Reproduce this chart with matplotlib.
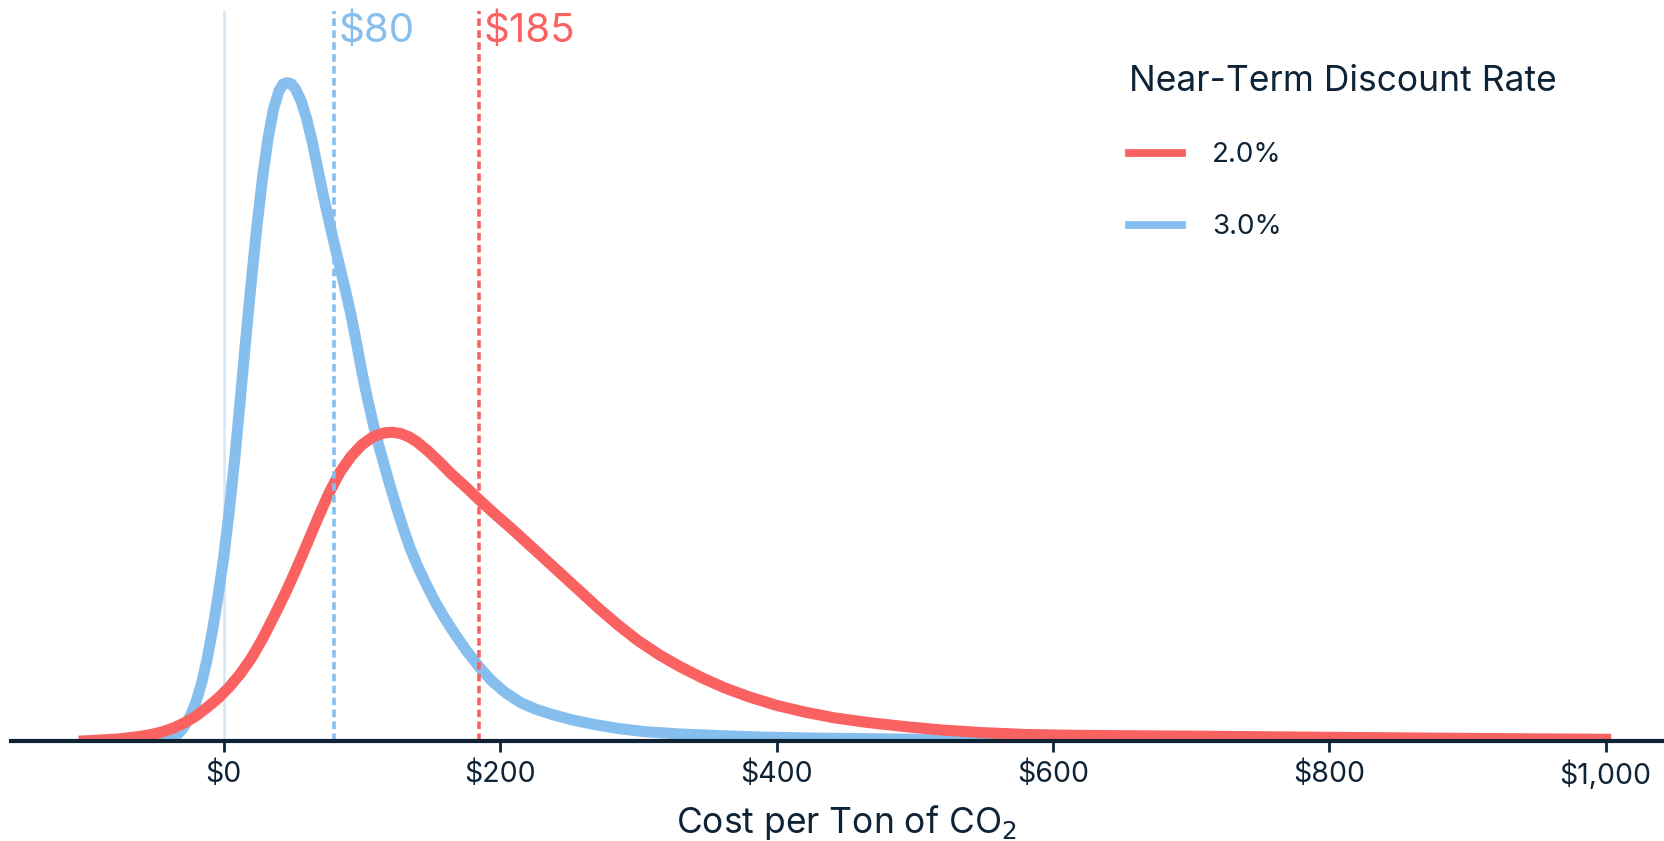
import numpy as np
import matplotlib.pyplot as plt
from matplotlib.ticker import FuncFormatter

# relative density (peak of the 3.0% curve = 1)
x_blue = [-45, -40, -36, -32, -28, -24, -20, -16, -12, -8, -4, 0, 4, 8, 12, 16, 20, 24, 28,
          32, 36, 40, 43, 46, 49, 52, 56, 60, 64, 68, 72, 76, 80, 84, 88, 92, 96, 100, 104,
          108, 112, 116, 120, 125, 130, 135, 141, 147, 153, 160, 168, 176, 185, 194, 204,
          215, 226, 238, 252, 268, 285, 305, 330, 360, 390, 430, 480, 540, 620, 720, 850,
          1000]
y_blue = [0.0, 0.002, 0.006, 0.013, 0.024, 0.039, 0.06, 0.088, 0.125, 0.17, 0.222, 0.28,
          0.35, 0.43, 0.52, 0.612, 0.7, 0.782, 0.855, 0.915, 0.96, 0.988, 0.998, 1.0, 0.998,
          0.99, 0.972, 0.945, 0.91, 0.87, 0.829, 0.791, 0.755, 0.72, 0.685, 0.648, 0.605,
          0.56, 0.52, 0.483, 0.45, 0.42, 0.39, 0.355, 0.322, 0.292, 0.262, 0.236, 0.211,
          0.186, 0.16, 0.136, 0.112, 0.091, 0.073, 0.058, 0.048, 0.04, 0.032, 0.025, 0.019,
          0.014, 0.0105, 0.008, 0.0058, 0.0042, 0.003, 0.002, 0.0013, 0.0008, 0.0004, 0.0]

x_red = [-101, -92, -84, -76, -68, -60, -52, -44, -36, -28, -20, -12, -4, 4, 12, 20, 28, 36,
         44, 52, 60, 68, 76, 84, 92, 100, 108, 116, 122, 128, 134, 140, 148, 156, 165, 175,
         185, 196, 208, 220, 232, 245, 258, 272, 286, 300, 315, 330, 346, 362, 380, 400,
         420, 442, 466, 492, 520, 550, 580, 615, 660, 710, 770, 830, 890, 950, 1000]
y_red = [0.0, 0.001, 0.002, 0.003, 0.005, 0.007, 0.01, 0.014, 0.02, 0.028, 0.038, 0.051,
         0.065, 0.082, 0.102, 0.126, 0.155, 0.188, 0.222, 0.259, 0.298, 0.338, 0.376, 0.408,
         0.432, 0.45, 0.462, 0.468, 0.469, 0.467, 0.462, 0.454, 0.44, 0.424, 0.405, 0.386,
         0.366, 0.345, 0.323, 0.3, 0.277, 0.252, 0.227, 0.2, 0.175, 0.152, 0.131, 0.113,
         0.096, 0.081, 0.067, 0.054, 0.044, 0.035, 0.028, 0.022, 0.0165, 0.0125, 0.0098,
         0.0085, 0.0078, 0.0071, 0.006, 0.005, 0.004, 0.0031, 0.0025]

means = [185, 80]
labels = ['2.0%', '3.0%']
ticks = [0, 200, 400, 600, 800, 1000]

RED = '#fa6262'
BLUE = '#86bfee'
NAVY = '#0e2336'

plt.rcParams['font.family'] = ['Inter', 'DejaVu Sans']

fig = plt.figure(figsize=(16.65, 8.41), dpi=100)
ax = fig.add_axes([0.0066, 0.119, 0.9934, 0.868])

ax.axvline(0, color='#d8e7f5', lw=2, zorder=1)
ax.plot(x_blue, y_blue, color=BLUE, lw=8, solid_joinstyle='round', zorder=2, label=labels[1])
ax.plot(x_red, y_red, color=RED, lw=8, solid_joinstyle='round', zorder=3, label=labels[0])

for m, c in zip(means, [RED, BLUE]):
    ax.axvline(m, color=c, lw=2.6, dashes=(2.1, 1.2), zorder=4)
    ax.text(m + 3, 0.957, f'${m}', color=c, fontsize=29, va='baseline', ha='left',
            transform=ax.get_xaxis_transform())

ax.set_xlim(-154, 1043)
ax.set_ylim(0, 1.109)
ax.set_xticks(ticks)
ax.xaxis.set_major_formatter(FuncFormatter(lambda v, p: f'${v:,.0f}'))
ax.tick_params(axis='x', length=8, width=2, color=NAVY, labelcolor=NAVY, labelsize=20.5, pad=6)
ax.set_yticks([])
for s in ['top', 'right', 'left']:
    ax.spines[s].set_visible(False)
ax.spines['bottom'].set_color(NAVY)
ax.spines['bottom'].set_linewidth(3)
ax.spines['bottom'].set_zorder(5)

ax.set_xlabel('Cost per Ton of CO$_2$', fontsize=25.5, color=NAVY)
ax.xaxis.set_label_coords(0.505, -0.085)

h, l = ax.get_legend_handles_labels()
leg = ax.legend(h[::-1], l[::-1], title='Near-Term Discount Rate', frameon=False,
                loc='upper left', bbox_to_anchor=(1129 / 1665, 1 - 65 / 841),
                bbox_transform=fig.transFigure, fontsize=20, title_fontsize=25.5,
                handlelength=1.9, handletextpad=1.08, labelspacing=1.65, borderpad=0,
                borderaxespad=0, alignment='left')
for t in leg.get_texts():
    t.set_color(NAVY)
leg.get_title().set_color(NAVY)
for ln in leg.get_lines():
    ln.set_linewidth(5.6)
leg._legend_box.sep = 32

fig.savefig('out.png', dpi=100)
